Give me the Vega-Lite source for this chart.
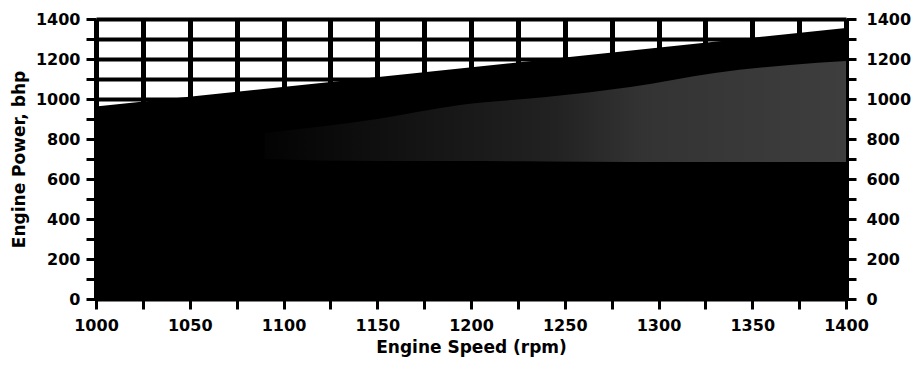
{
  "$schema": "https://vega.github.io/schema/vega-lite/v6.json",
  "width": 750,
  "height": 280,
  "autosize": "none",
  "padding": {"left": 96, "top": 19, "right": 65, "bottom": 66},
  "background": "white",
  "config": {
    "view": {"stroke": null},
    "font": "DejaVu Sans",
    "axis": {
      "labelFont": "DejaVu Sans",
      "labelFontWeight": "bold",
      "labelFontSize": 16,
      "labelColor": "black",
      "titleFont": "DejaVu Sans",
      "titleFontWeight": "bold",
      "titleFontSize": 17,
      "titleColor": "black",
      "domainColor": "black",
      "domainWidth": 3,
      "tickColor": "black",
      "tickWidth": 3,
      "tickSize": 10,
      "gridColor": "black",
      "gridOpacity": 1
    }
  },
  "datasets": {
    "boundary": [
      {"rpm": 1000, "bhp": 957},
      {"rpm": 1400, "bhp": 1350}
    ],
    "speckle": [
      {"rpm": 1090, "top": 830, "bottom": 700},
      {"rpm": 1150, "top": 900, "bottom": 690},
      {"rpm": 1194, "top": 970, "bottom": 690},
      {"rpm": 1240, "top": 1010, "bottom": 688},
      {"rpm": 1285, "top": 1060, "bottom": 685},
      {"rpm": 1330, "top": 1130, "bottom": 685},
      {"rpm": 1370, "top": 1170, "bottom": 685},
      {"rpm": 1400, "top": 1190, "bottom": 685}
    ]
  },
  "layer": [
    {
      "data": {"name": "boundary"},
      "mark": {"type": "area", "color": "black", "opacity": 1, "clip": true},
      "encoding": {
        "x": {
          "field": "rpm", "type": "quantitative",
          "scale": {"domain": [1000, 1400], "nice": false, "zero": false},
          "axis": {
            "title": "Engine Speed (rpm)",
            "values": [1000, 1025, 1050, 1075, 1100, 1125, 1150, 1175, 1200, 1225, 1250, 1275, 1300, 1325, 1350, 1375, 1400],
            "labelExpr": "datum.value % 50 === 0 ? datum.label : ''",
            "format": "d",
            "grid": true,
            "gridWidth": 5,
            "labelPadding": 8,
            "titlePadding": 6,
            "labelFlush": false
          }
        },
        "y": {
          "field": "bhp", "type": "quantitative",
          "scale": {"domain": [0, 1400], "nice": false},
          "axis": {
            "title": "Engine Power, bhp",
            "values": [0, 100, 200, 300, 400, 500, 600, 700, 800, 900, 1000, 1100, 1200, 1300, 1400],
            "labelExpr": "datum.value % 200 === 0 ? datum.label : ''",
            "format": "d",
            "grid": true,
            "gridWidth": 4,
            "labelPadding": 6,
            "titlePadding": 7,
            "labelFlush": false,
            "orient": "left"
          }
        }
      }
    },
    {
      "data": {"name": "speckle"},
      "mark": {
        "type": "area",
        "interpolate": "monotone",
        "opacity": 1,
        "color": {
          "gradient": "linear",
          "x1": 0, "y1": 0, "x2": 1, "y2": 0,
          "stops": [
            {"offset": 0, "color": "#030303"},
            {"offset": 0.3, "color": "#161616"},
            {"offset": 0.5, "color": "#222222"},
            {"offset": 0.65, "color": "#333333"},
            {"offset": 1, "color": "#3e3e3e"}
          ]
        }
      },
      "encoding": {
        "x": {"field": "rpm", "type": "quantitative"},
        "y": {"field": "top", "type": "quantitative", "axis": null},
        "y2": {"field": "bottom"}
      }
    },
    {
      "data": {"name": "boundary"},
      "mark": {"type": "line", "color": "black", "strokeWidth": 2},
      "encoding": {
        "x": {"field": "rpm", "type": "quantitative"},
        "y": {
          "field": "bhp", "type": "quantitative",
          "axis": {
            "orient": "right",
            "title": null,
            "values": [0, 100, 200, 300, 400, 500, 600, 700, 800, 900, 1000, 1100, 1200, 1300, 1400],
            "labelExpr": "datum.value % 200 === 0 ? datum.label : ''",
            "format": "d",
            "grid": false,
            "labelPadding": 10,
            "labelFlush": false
          }
        }
      }
    }
  ],
  "resolve": {"axis": {"y": "independent"}}
}
